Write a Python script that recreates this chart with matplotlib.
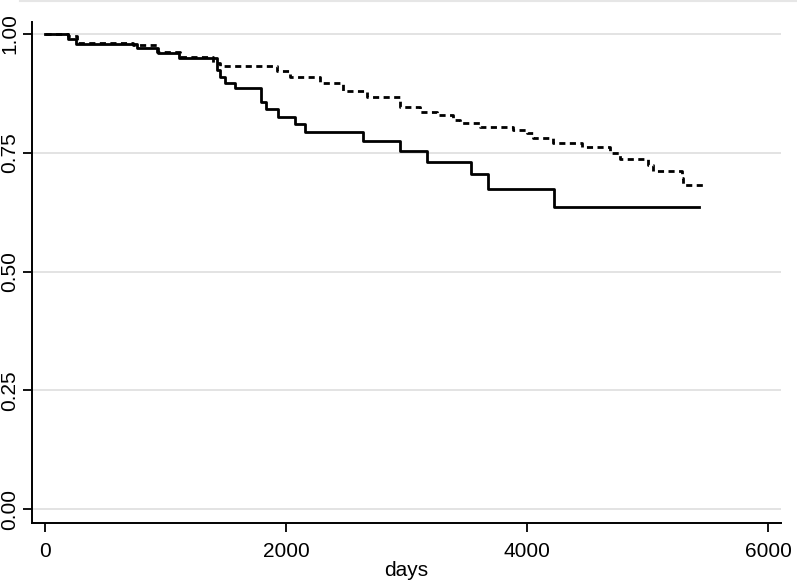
import numpy as np
import matplotlib.pyplot as plt
from matplotlib.lines import Line2D

plt.rcParams['font.family'] = ['Liberation Sans', 'DejaVu Sans']

# Kaplan-Meier step points (days, survival)
solid_days = [0, 190, 257, 763, 940, 1114, 1430, 1450, 1490, 1577, 1793, 1831,
              1936, 2075, 2158, 2642, 2946, 3167, 3533, 3673, 4227, 5427]
solid_surv = [1.000, 0.990, 0.980, 0.970, 0.960, 0.949, 0.924, 0.910, 0.897, 0.886,
              0.857, 0.842, 0.826, 0.811, 0.793, 0.775, 0.754, 0.730, 0.705, 0.674,
              0.636, 0.636]

dash_days = [0, 191, 263, 730, 929, 1120, 1394, 1452, 1925, 2033, 2282, 2473, 2672,
             2946, 3112, 3251, 3386, 3444, 3610, 3884, 3998, 4050, 4216, 4454, 4689,
             4772, 5004, 5046, 5284, 5295, 5477]
dash_surv = [1.000, 0.995, 0.982, 0.977, 0.962, 0.951, 0.940, 0.933, 0.923, 0.909,
             0.897, 0.881, 0.868, 0.847, 0.836, 0.829, 0.819, 0.813, 0.805, 0.799,
             0.791, 0.782, 0.770, 0.763, 0.749, 0.737, 0.724, 0.712, 0.696, 0.682,
             0.682]

xticks = [0, 2000, 4000, 6000]
yticks = [0.00, 0.25, 0.50, 0.75, 1.00]
ytick_labels = ['0.00', '0.25', '0.50', '0.75', '1.00']

fig = plt.figure(figsize=(7.97, 5.81), dpi=100)
ax = fig.add_axes([0.0402, 0.0998, 0.9398, 0.8623])

ax.step(solid_days, solid_surv, where='post', color='black', lw=2.0)
ax.step(dash_days, dash_surv, where='post', color='black', lw=2.0,
        linestyle=(0, (2.2, 1.6)))

ax.set_xlim(-108, 6108)
ax.set_ylim(-0.0295, 1.0253)
ax.set_xticks(xticks)
ax.set_yticks(yticks)
ax.set_yticklabels(ytick_labels, rotation=90, va='center')
ax.tick_params(axis='both', length=6.5, width=1.3, labelsize=15, color='black')
ax.tick_params(axis='y', pad=2.5)
ax.tick_params(axis='x', pad=7)
ax.set_xlabel('days', fontsize=15, labelpad=0)

ax.grid(axis='y', color='#e0e0e0', lw=1.3)
ax.set_axisbelow(True)
for s in ['top', 'right']:
    ax.spines[s].set_visible(False)
for s in ['left', 'bottom']:
    ax.spines[s].set_linewidth(1.4)

fig.add_artist(Line2D([0.025, 1.0], [0.998, 0.998], transform=fig.transFigure,
                      color='#e6e6e6', lw=1.5))

fig.savefig('out.png', dpi=100)
